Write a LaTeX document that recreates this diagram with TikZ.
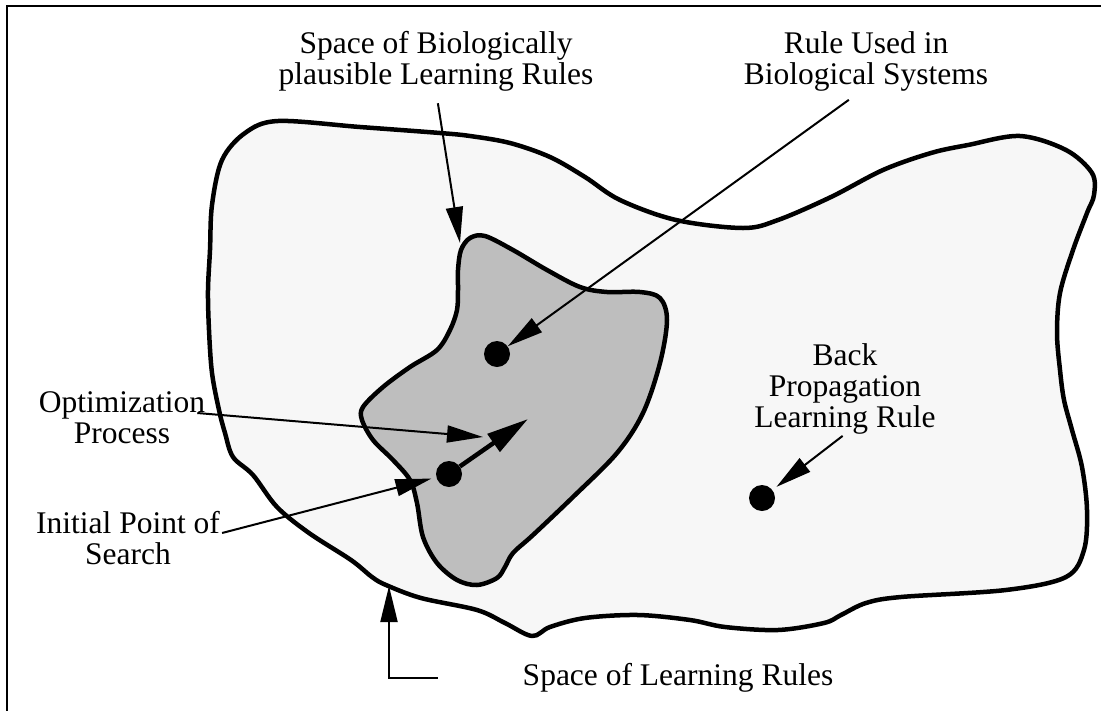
\documentclass[tikz,border=0pt]{standalone}
\usepackage{fontspec}
\setmainfont{Liberation Serif}
\usetikzlibrary{arrows.meta,calc}

\definecolor{outergray}{gray}{0.97}
\definecolor{innergray}{gray}{0.745}

\tikzset{
  lbl/.style={inner sep=0pt, align=center, anchor=north,
    font=\fontsize{31.5}{31}\selectfont},
  thinarrow/.style={line width=2pt, -{Triangle[length=36pt,width=17pt]}},
  thickarrow/.style={line width=4.5pt, -{Triangle[length=42pt,width=21pt]}},
  spot/.style={circle, fill=black, inner sep=0pt, minimum size=26pt},
  blob/.style={line width=4.5pt, line join=round},
}

\begin{document}
\begin{tikzpicture}[x=1pt,y=-1pt]
  \useasboundingbox (0,0) rectangle (1101,710);
  \draw[line width=2.5pt] (7,6) rectangle (1120,730);

  % space of all learning rules
  \draw[blob, fill=outergray] plot[smooth cycle, tension=0.55] coordinates {
    (212,205) (222,160) (245,133) (278,121) (360,127) (440,133) (470,136)
    (510,143) (550,157) (585,177) (620,200) (676,220) (743,228) (778,220)
    (831,197) (883,170) (931,153) (968,145) (1020,136) (1066,150) (1092,173)
    (1094,195) (1087,213) (1073,250) (1060,293) (1057,333) (1060,370)
    (1064,400) (1072,430) (1082,467) (1087,510) (1084,550) (1066,577)
    (1006,590) (901,597) (866,603) (841,615) (824,623) (778,630) (725,627)
    (690,620) (638,615) (585,618) (550,627) (532,636) (505,623) (477,610)
    (421,598) (386,585) (372,577) (351,560) (309,533) (277,507) (253,475)
    (233,457) (225,433) (219,410) (212,373) (209,330) (208,290) (210,250)};

  % biologically plausible subset
  \draw[blob, fill=innergray] plot[smooth cycle, tension=0.55] coordinates {
    (470,238) (485,236) (513,250) (547,270) (580,287) (607,292) (640,292)
    (660,298) (667,320) (660,363) (643,413) (617,453) (573,497) (533,535)
    (513,553) (505,567) (497,578) (477,585) (457,580) (437,563) (423,537)
    (417,503) (410,480) (393,460) (373,440) (362,420) (363,407) (383,387)
    (410,367) (437,350) (450,330) (457,310) (458,290) (458,270) (461,250)};

  % labels
  \node[lbl] (bio) at (436,31) {Space of Biologically\\plausible Learning Rules};
  \node[lbl] (rule) at (866,31) {Rule Used in\\Biological Systems};
  \node[lbl] (optim) at (122,391) {Optimization\\Process};
  \node[lbl] (init) at (128,511) {Initial Point of\\Search};
  \node[lbl] (back) at (845,343) {Back\\Propagation\\Learning Rule};
  \node[lbl] (space) at (678,663) {Space of Learning Rules};

  % points in the space
  \node[spot] (ruledot) at (497,354) {};
  \node[spot] (initdot) at (449,474) {};
  \node[spot] (backdot) at (762,498) {};

  \coordinate (bioTip) at (460,243);
  \coordinate (optTip) at (528,419);
  \coordinate (procTip) at (483,437);
  \coordinate (learnTip) at (389,586);

  % arrows
  \draw[thinarrow, shorten <=12pt] (bio.south) -- (bioTip);
  \draw[thinarrow, shorten <=15pt] ([xshift=-5pt]rule.south) -- (ruledot);
  \draw[thinarrow] ([xshift=-8pt,yshift=-22pt]optim.north east) -- (procTip);
  \draw[thinarrow, shorten >=5pt] ([xshift=2pt,yshift=-22pt]init.north east) -- (initdot);
  \draw[thinarrow, shorten <=3pt, shorten >=5pt] (back.south) -- (backdot);
  \draw[thinarrow] ([xshift=-85pt]space.west) -| (learnTip);
  \draw[thickarrow] (initdot) -- (optTip);
\end{tikzpicture}
\end{document}
